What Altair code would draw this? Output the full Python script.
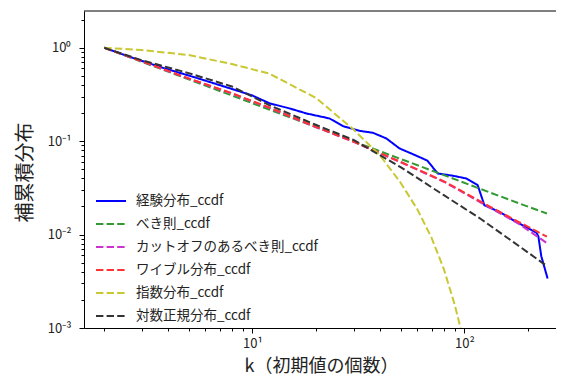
import altair as alt
import pandas as pd

series_names = ["経験分布_ccdf", "べき則_ccdf", "カットオフのあるべき則_ccdf",
                "ワイブル分布_ccdf", "指数分布_ccdf", "対数正規分布_ccdf"]
colors = ["#0000ff", "#339933", "#cc33cc", "#ff3333", "#c8c832", "#333333"]
dashes = [[1, 0], [7.4, 3.2], [7.4, 3.2], [7.4, 3.2], [7.4, 3.2], [7.4, 3.2]]

# empirical ccdf
emp_k = [2.0, 2.59, 3.73, 5.35, 7.67, 9.89, 12.06, 14.99, 17.97, 23.1, 26.7, 32.0,
         37.0, 42.8, 49.4, 57.1, 66.9, 74.8, 88.1, 101.9, 115.5, 124.2, 146.2,
         175.2, 218.3, 223.2, 230.5, 246.9]
emp_p = [1.0, 0.81, 0.615, 0.482, 0.373, 0.311, 0.254, 0.224, 0.198, 0.175, 0.145,
         0.129, 0.123, 0.107, 0.0836, 0.0726, 0.0619, 0.0451, 0.0427, 0.0399, 0.0338,
         0.0206, 0.0175, 0.0137, 0.0105, 0.0096, 0.00586, 0.00338]

# fitted curves
fit_k = [2, 3, 5, 8, 12, 20, 30, 50, 80, 120, 180, 245]
power_p = [1.0, 0.708, 0.459, 0.308, 0.218, 0.141, 0.0996, 0.0645, 0.0433, 0.0306, 0.0217, 0.0168]
cutoff_p = [1.0, 0.716, 0.468, 0.324, 0.227, 0.141, 0.0982, 0.0596, 0.0368, 0.0219, 0.0131, 0.0081]
weibull_p = [1.0, 0.718, 0.470, 0.326, 0.229, 0.142, 0.0989, 0.0600, 0.0372, 0.0224, 0.0137, 0.0095]
lognorm_p = [1.0, 0.735, 0.535, 0.385, 0.243, 0.149, 0.103, 0.0527, 0.0264, 0.0146, 0.0076, 0.0046]
exp_k = [2, 3, 5, 8, 12, 20, 30, 40, 50, 60, 70, 80, 90, 100, 110]
exp_p = [1.0, 0.945, 0.835, 0.669, 0.529, 0.289, 0.133, 0.0703, 0.0359, 0.0186,
         0.00923, 0.00427, 0.00177, 0.000685, 0.000215]

x_ticks = [2, 3, 4, 5, 6, 7, 8, 9, 10, 20, 30, 40, 50, 60, 70, 80, 90, 100, 200]
y_ticks = [0.001, 0.002, 0.003, 0.004, 0.005, 0.006, 0.007, 0.008, 0.009,
           0.01, 0.02, 0.03, 0.04, 0.05, 0.06, 0.07, 0.08, 0.09,
           0.1, 0.2, 0.3, 0.4, 0.5, 0.6, 0.7, 0.8, 0.9, 1, 2]

rows = []
def add(ks, ps, name):
    for k, p in zip(ks, ps):
        rows.append({"k": k, "p": p, "s": name})

add(emp_k, emp_p, series_names[0])
add(fit_k, power_p, series_names[1])
add(fit_k, cutoff_p, series_names[2])
add(fit_k, weibull_p, series_names[3])
add(exp_k, exp_p, series_names[4])
add(fit_k, lognorm_p, series_names[5])
df = pd.DataFrame(rows)

FONT = "Noto Sans CJK JP"
W, H = 472, 317

x_axis = alt.Axis(
    values=x_ticks,
    labelExpr="datum.value == 10 ? '10¹' : datum.value == 100 ? '10²' : ''",
    tickSize={"condition": {"test": "datum.value == 10 || datum.value == 100", "value": 5}, "value": 3},
    grid=False, labelOverlap=False, labelFlush=False,
    labelFont=FONT, labelFontSize=13, labelColor="#222", labelPadding=4,
    tickColor="black", domainColor="black",
    title="k（初期値の個数）", titleFont=FONT, titleFontSize=18, titleFontWeight="normal",
    titleColor="#222", titleBaseline="middle", titleY=38, titleX=237,
)
y_axis = alt.Axis(
    values=y_ticks,
    labelExpr="datum.value == 1 ? '10⁰' : datum.value == 0.1 ? '10⁻¹' : datum.value == 0.01 ? '10⁻²' : datum.value == 0.001 ? '10⁻³' : ''",
    tickSize={"condition": {"test": "datum.value == 1 || datum.value == 0.1 || datum.value == 0.01 || datum.value == 0.001", "value": 5}, "value": 3},
    grid=False, labelOverlap=False, labelFlush=False,
    labelFont=FONT, labelFontSize=13, labelColor="#222", labelPadding=8,
    tickColor="black", domainColor="black",
    title="補累積分布", titleFont=FONT, titleFontSize=20, titleFontWeight="normal",
    titleColor="#222", titleBaseline="middle", titleAlign="center", titleX=-59, titleY=161,
)

legend = alt.Legend(
    title=None, orient="none", legendX=11, legendY=174,
    symbolType="stroke", symbolSize=900, symbolStrokeWidth=2,
    labelFont=FONT, labelFontSize=13.5, labelColor="#222", labelOffset=9,
    labelLimit=400, padding=0, rowPadding=-4,
)

lines = alt.Chart(df).mark_line(clip=True, strokeWidth=2).encode(
    x=alt.X("k:Q", scale=alt.Scale(type="log", domain=[1.605, 270.4], nice=False), axis=x_axis),
    y=alt.Y("p:Q", scale=alt.Scale(type="log", domain=[0.001, 2.473], nice=False), axis=y_axis),
    color=alt.Color("s:N", scale=alt.Scale(domain=series_names, range=colors), sort=series_names, legend=legend),
    strokeDash=alt.StrokeDash("s:N", scale=alt.Scale(domain=series_names, range=dashes), sort=series_names, legend=legend),
)

top_spine = alt.Chart(pd.DataFrame({"a": [0]})).mark_rule(color="black", strokeWidth=1).encode(
    x=alt.value(0), x2=alt.value(W), y=alt.value(0)
)

chart = alt.layer(lines, top_spine).properties(
    width=W, height=H,
    autosize=alt.AutoSizeParams(type="none"),
    padding={"left": 76, "top": 3, "right": 0, "bottom": 47},
).configure_view(stroke=None)

chart.save("out.html", embed_options={"renderer": "svg", "actions": False})
